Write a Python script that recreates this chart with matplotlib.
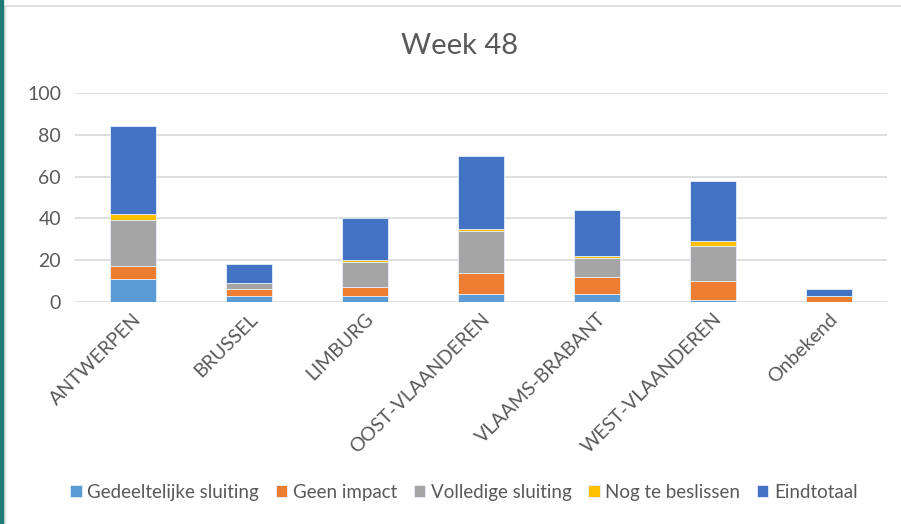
import matplotlib.pyplot as plt
import numpy as np
from matplotlib.patches import Rectangle

plt.rcParams['font.family'] = ['Lato', 'DejaVu Sans']

provinces = ['ANTWERPEN', 'BRUSSEL', 'LIMBURG', 'OOST-VLAANDEREN',
             'VLAAMS-BRABANT', 'WEST-VLAANDEREN', 'Onbekend']
gedeeltelijk = [11, 3, 3, 4, 4, 1, 0]
geen_impact = [6, 3, 4, 10, 8, 9, 3]
volledig = [22, 3, 12, 20, 9, 17, 0]
nog_te_beslissen = [3, 0, 1, 1, 1, 2, 0]
eindtotaal = [42, 9, 20, 35, 22, 29, 3]

series = [
    ('Gedeeltelijke sluiting', gedeeltelijk, '#5B9BD5'),
    ('Geen impact', geen_impact, '#ED7D31'),
    ('Volledige sluiting', volledig, '#A5A5A5'),
    ('Nog te beslissen', nog_te_beslissen, '#FFC000'),
    ('Eindtotaal', eindtotaal, '#4472C4'),
]

fig = plt.figure(figsize=(9.01, 5.24), dpi=100)
ax = fig.add_axes([0.0832, 0.4237, 0.9012, 0.3989])

x = np.arange(len(provinces))
bottom = np.zeros(len(provinces))
for name, vals, color in series:
    ax.bar(x, vals, 0.4, bottom=bottom, color=color, label=name,
           edgecolor='#E8EEF8', linewidth=0.6)
    bottom += np.array(vals)

ax.set_xlim(-0.5, len(provinces) - 0.5)
ax.set_ylim(0, 100)
ax.set_yticks(range(0, 101, 20))
ax.yaxis.grid(True, color='#D9D9D9', linewidth=1.2)
ax.set_axisbelow(True)
for s in ax.spines.values():
    s.set_visible(False)
ax.tick_params(length=0, colors='#595959', labelsize=14)
ax.tick_params(axis='y', pad=10)
ax.tick_params(axis='x', pad=6)
ax.set_xticks(x)
ax.set_xticklabels(provinces, rotation=45, ha='right', rotation_mode='anchor')

fig.text(0.51, 0.912, 'Week 48', ha='center', va='center', fontsize=21,
         color='#595959')

fig.legend(loc='center', bbox_to_anchor=(0.515, 0.061), ncol=5, frameon=False,
           fontsize=13.5, handlelength=0.6, handleheight=0.6, handletextpad=0.3,
           columnspacing=0.9, labelcolor='#595959')

# chart border like the screenshot
fig.patches.append(Rectangle((0.006, -0.01), 1.0, 0.998, transform=fig.transFigure,
                             fill=False, edgecolor='#D9D9D9', linewidth=1.2))
fig.patches.append(Rectangle((0, 0), 0.003, 1, transform=fig.transFigure,
                             color='#1F7A7A'))

fig.savefig('out.png', dpi=100)
